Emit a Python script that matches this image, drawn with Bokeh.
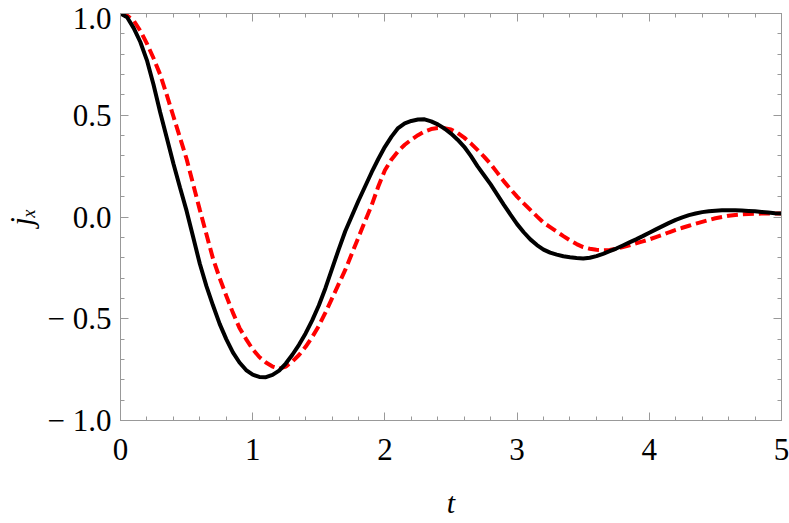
from bokeh.plotting import figure
from bokeh.models import Range1d, LinearAxis, SingleIntervalTicker
from bokeh.embed import file_html
from bokeh.resources import INLINE

# ---- data ----
t_vals = [0.00, 0.05, 0.10, 0.15, 0.20, 0.25, 0.30, 0.35, 0.40, 0.45,
          0.50, 0.55, 0.60, 0.65, 0.70, 0.75, 0.80, 0.85, 0.90, 0.95,
          1.00, 1.05, 1.10, 1.15, 1.20, 1.25, 1.30, 1.35, 1.40, 1.45,
          1.50, 1.55, 1.60, 1.65, 1.70, 1.75, 1.80, 1.85, 1.90, 1.95,
          2.00, 2.05, 2.10, 2.15, 2.20, 2.25, 2.30, 2.35, 2.40, 2.45,
          2.50, 2.55, 2.60, 2.65, 2.70, 2.75, 2.80, 2.85, 2.90, 2.95,
          3.00, 3.05, 3.10, 3.15, 3.20, 3.25, 3.30, 3.35, 3.40, 3.45,
          3.50, 3.55, 3.60, 3.65, 3.70, 3.75, 3.80, 3.85, 3.90, 3.95,
          4.00, 4.05, 4.10, 4.15, 4.20, 4.25, 4.30, 4.35, 4.40, 4.45,
          4.50, 4.55, 4.60, 4.65, 4.70, 4.75, 4.80, 4.85, 4.90, 4.95,
          5.00]

j_black = [1.0, 0.982, 0.928, 0.86, 0.77, 0.65, 0.515, 0.39, 0.263, 0.145,
           0.03, -0.10, -0.23, -0.34, -0.435, -0.525, -0.60, -0.665, -0.715, -0.752,
           -0.775, -0.786, -0.787, -0.776, -0.755, -0.72, -0.677, -0.628, -0.572, -0.508,
           -0.435, -0.35, -0.255, -0.16, -0.07, 0.005, 0.08, 0.15, 0.22, 0.285,
           0.345, 0.395, 0.437, 0.46, 0.472, 0.479, 0.48, 0.47, 0.455, 0.435,
           0.41, 0.38, 0.345, 0.30, 0.25, 0.205, 0.16, 0.11, 0.06, 0.012,
           -0.035, -0.075, -0.11, -0.138, -0.16, -0.175, -0.185, -0.193, -0.198, -0.202,
           -0.204, -0.20, -0.192, -0.181, -0.168, -0.155, -0.14, -0.125, -0.11, -0.094,
           -0.077, -0.061, -0.045, -0.029, -0.014, -0.002, 0.009, 0.017, 0.024, 0.028,
           0.031, 0.033, 0.033, 0.033, 0.032, 0.030, 0.028, 0.025, 0.022, 0.019,
           0.017]

j_red = [1.0, 0.99, 0.965, 0.915, 0.852, 0.78, 0.70, 0.60, 0.495, 0.39,
         0.285, 0.16, 0.035, -0.085, -0.205, -0.30, -0.387, -0.47, -0.545, -0.60,
         -0.65, -0.688, -0.715, -0.735, -0.745, -0.735, -0.71, -0.678, -0.638, -0.59,
         -0.535, -0.47, -0.40, -0.33, -0.26, -0.18, -0.10, -0.02, 0.058, 0.15,
         0.23, 0.283, 0.323, 0.355, 0.38, 0.402, 0.42, 0.432, 0.437, 0.436,
         0.43, 0.413, 0.39, 0.362, 0.33, 0.297, 0.26, 0.218, 0.175, 0.137,
         0.10, 0.067, 0.035, 0.003, -0.028, -0.05, -0.072, -0.094, -0.115, -0.133,
         -0.148, -0.156, -0.161, -0.163, -0.162, -0.156, -0.148, -0.139, -0.129, -0.12,
         -0.11, -0.099, -0.088, -0.075, -0.063, -0.053, -0.043, -0.033, -0.024, -0.015,
         -0.006, 0.0, 0.006, 0.01, 0.013, 0.015, 0.016, 0.017, 0.017, 0.017,
         0.017]

y_tick_labels = {-1: "\u2212 1.0", -0.5: "\u2212 0.5", 0: "0.0", 0.5: "0.5", 1: "1.0"}
x_label = "t"
y_label = "j\u2093"

FRAME = "#999999"
SERIF = "Liberation Serif"

p = figure(width=789, height=523, x_range=Range1d(0, 5), y_range=Range1d(-1, 1),
           output_backend="svg", toolbar_location=None,
           x_axis_location=None, y_axis_location=None,
           min_border_left=120, min_border_right=8, min_border_top=13, min_border_bottom=103)
p.outline_line_color = FRAME
p.background_fill_color = "white"
p.border_fill_color = "white"
p.xgrid.visible = False
p.ygrid.visible = False


def style(ax, labels=True):
    ax.axis_line_color = FRAME
    ax.axis_line_width = 1
    ax.major_tick_line_color = FRAME
    ax.minor_tick_line_color = FRAME
    ax.major_tick_in = 8
    ax.major_tick_out = 0
    ax.minor_tick_in = 4
    ax.minor_tick_out = 0
    ax.major_label_text_font = SERIF
    ax.major_label_text_font_size = "31px"
    ax.major_label_text_color = "black"
    if not labels:
        ax.major_label_text_font_size = "1px"
        ax.major_label_text_color = None
        ax.major_label_text_alpha = 0
        ax.major_label_standoff = 0


xt = dict(interval=1, num_minor_ticks=5)
yt = dict(interval=0.5, num_minor_ticks=5)

bottom = LinearAxis(ticker=SingleIntervalTicker(**xt))
style(bottom)
bottom.major_label_standoff = 18
bottom.axis_label = x_label
bottom.axis_label_text_font = SERIF
bottom.axis_label_text_font_style = "italic"
bottom.axis_label_text_font_size = "30px"
bottom.axis_label_text_color = "black"
bottom.axis_label_standoff = 23
p.add_layout(bottom, "below")

top = LinearAxis(ticker=SingleIntervalTicker(**xt))
style(top, labels=False)
p.add_layout(top, "above")

left = LinearAxis(ticker=SingleIntervalTicker(**yt))
style(left)
left.major_label_standoff = 9
left.major_label_overrides = y_tick_labels
left.axis_label = y_label
left.axis_label_text_font = SERIF
left.axis_label_text_font_style = "italic"
left.axis_label_text_font_size = "31px"
left.axis_label_text_color = "black"
left.axis_label_standoff = 6
p.add_layout(left, "left")

right = LinearAxis(ticker=SingleIntervalTicker(**yt))
style(right, labels=False)
p.add_layout(right, "right")

p.line(t_vals, j_red, line_color="#ff0000", line_width=4, line_dash="11 5")
p.line(t_vals, j_black, line_color="black", line_width=4)

open("out.html", "w").write(file_html(p, INLINE))
